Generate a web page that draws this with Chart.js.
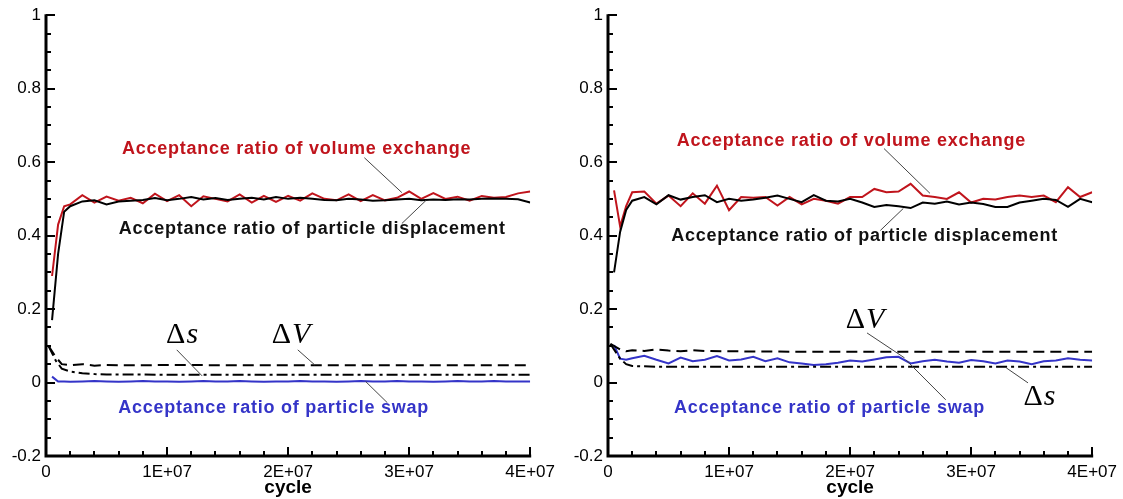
<!DOCTYPE html>
<html>
<head>
<meta charset="utf-8">
<script src="https://cdn.jsdelivr.net/npm/chart.js@4"></script>
<style>
html, body { margin: 0; padding: 0; background: #fff; }
#wrap { position: relative; width: 1123px; height: 499px; }
#wrap canvas { position: absolute; top: 0; }
</style>
</head>
<body>
<div id="wrap">
  <canvas id="left" width="561" height="499" style="left:0"></canvas>
  <canvas id="right" width="561" height="499" style="left:562px"></canvas>
</div>
<script>
// cycle, in units of 1E+06
const cycles = [0.5, 1, 1.5, 2, 3, 4, 5, 6, 7, 8, 9, 10, 11, 12, 13, 14, 15, 16, 17, 18, 19, 20,
  21, 22, 23, 24, 25, 26, 27, 28, 29, 30, 31, 32, 33, 34, 35, 36, 37, 38, 39, 40];

// left panel
const volumeL = [0.29, 0.43, 0.48, 0.485, 0.51, 0.49, 0.506, 0.495, 0.503, 0.488, 0.514, 0.494, 0.51, 0.48,
  0.507, 0.5, 0.493, 0.512, 0.49, 0.508, 0.492, 0.508, 0.495, 0.515, 0.5, 0.496, 0.512, 0.494, 0.51, 0.496,
  0.503, 0.52, 0.5, 0.516, 0.5, 0.506, 0.495, 0.508, 0.503, 0.505, 0.515, 0.52];
const displaceL = [0.17, 0.35, 0.465, 0.48, 0.493, 0.496, 0.485, 0.493, 0.495, 0.497, 0.502, 0.496, 0.5, 0.505,
  0.498, 0.502, 0.497, 0.5, 0.503, 0.498, 0.505, 0.5, 0.503, 0.5, 0.497, 0.496, 0.5, 0.498, 0.495, 0.496,
  0.498, 0.5, 0.496, 0.498, 0.497, 0.499, 0.498, 0.5, 0.501, 0.5, 0.499, 0.49];
const swapL = [0.016, 0.003, 0.003, 0.002, 0.003, 0.004, 0.003, 0.002, 0.003, 0.004, 0.003, 0.003, 0.002, 0.003,
  0.004, 0.003, 0.003, 0.004, 0.003, 0.002, 0.003, 0.003, 0.004, 0.003, 0.003, 0.002, 0.003, 0.004, 0.003, 0.003,
  0.004, 0.003, 0.003, 0.002, 0.003, 0.004, 0.003, 0.003, 0.004, 0.003, 0.003, 0.003];
const cyclesDL = [0.2, 0.8, 1.3, 2, 3, 4, 5, 6, 8, 10, 15, 20, 25, 30, 35, 40];
const deltaVL = [0.1, 0.07, 0.05, 0.047, 0.05, 0.046, 0.048, 0.047, 0.047, 0.048, 0.047, 0.047, 0.047, 0.047, 0.047, 0.047];
const deltaSL = [0.1, 0.06, 0.038, 0.03, 0.025, 0.023, 0.022, 0.022, 0.022, 0.021, 0.021, 0.021, 0.021, 0.021, 0.021, 0.021];

// right panel
const volumeR = [0.523, 0.425, 0.48, 0.518, 0.52, 0.487, 0.509, 0.48, 0.515, 0.487, 0.536, 0.469, 0.505, 0.503,
  0.505, 0.482, 0.505, 0.485, 0.5, 0.495, 0.487, 0.505, 0.505, 0.527, 0.518, 0.52, 0.541, 0.509, 0.505, 0.5,
  0.518, 0.49, 0.5, 0.498, 0.505, 0.509, 0.505, 0.509, 0.491, 0.532, 0.505, 0.518];
const displaceR = [0.3, 0.41, 0.47, 0.495, 0.505, 0.485, 0.51, 0.498, 0.505, 0.51, 0.491, 0.5, 0.495, 0.498,
  0.503, 0.509, 0.5, 0.491, 0.51, 0.495, 0.493, 0.5, 0.49, 0.478, 0.483, 0.48, 0.475, 0.49, 0.487, 0.493,
  0.485, 0.49, 0.486, 0.478, 0.478, 0.49, 0.495, 0.5, 0.497, 0.478, 0.5, 0.491];
const swapR = [0.102, 0.065, 0.062, 0.066, 0.073, 0.062, 0.052, 0.068, 0.058, 0.062, 0.072, 0.06, 0.063, 0.07,
  0.058, 0.066, 0.055, 0.052, 0.048, 0.05, 0.054, 0.06, 0.057, 0.063, 0.069, 0.07, 0.052, 0.058, 0.062, 0.057,
  0.054, 0.061, 0.058, 0.052, 0.06, 0.057, 0.05, 0.058, 0.06, 0.066, 0.062, 0.06];
const cyclesDR = [0.2, 1, 1.5, 2, 3, 4, 5, 6, 7, 8, 10, 15, 20, 25, 30, 35, 40];
const deltaVR = [0.105, 0.09, 0.085, 0.088, 0.086, 0.09, 0.087, 0.085, 0.088, 0.086, 0.085, 0.084, 0.084, 0.084, 0.084, 0.084, 0.084];
const deltaSR = [0.105, 0.065, 0.05, 0.045, 0.044, 0.043, 0.043, 0.043, 0.043, 0.043, 0.043, 0.043, 0.043, 0.043, 0.043, 0.043, 0.043];

const RED = '#c0141c';
const BLUE = '#3434c8';
const SANS = '"Liberation Sans", Arial, sans-serif';
const SERIF = '"Liberation Serif", "Times New Roman", serif';

// annotation labels and leader lines, in data units (cycle 1E+06, ratio)
const notesL = [
  { text: 'Acceptance ratio of volume exchange', color: RED, at: [20.7, 0.637], line: [26.3, 0.612, 29.4, 0.517] },
  { text: 'Acceptance ratio of particle displacement', color: '#111', at: [22.0, 0.417], line: [31.4, 0.496, 29.4, 0.433] },
  { math: 's', at: [11.2, 0.13], line: [10.8, 0.089, 12.9, 0.018] },
  { math: 'V', at: [20.2, 0.13], line: [20.8, 0.089, 22.2, 0.048] },
  { text: 'Acceptance ratio of particle swap', color: BLUE, at: [18.8, -0.069], line: [26.4, 0.003, 28.2, -0.055] }
];
const notesR = [
  { text: 'Acceptance ratio of volume exchange', color: RED, at: [20.1, 0.658], line: [22.8, 0.637, 26.6, 0.515] },
  { text: 'Acceptance ratio of particle displacement', color: '#111', at: [21.2, 0.4], line: [24.4, 0.474, 22.5, 0.414] },
  { math: 'V', at: [21.2, 0.17], line: [21.4, 0.135, 24.5, 0.067] },
  { math: 's', at: [35.6, -0.039], line: [32.9, 0.04, 34.7, -0.001] },
  { text: 'Acceptance ratio of particle swap', color: BLUE, at: [18.3, -0.069], line: [24.6, 0.062, 27.9, -0.047] }
];

const pairs = (xs, ys) => xs.map((x, i) => ({ x: x, y: ys[i] }));

const frame = {
  id: 'frame',
  afterDraw(chart, args, opts) {
    const ctx = chart.ctx;
    const a = chart.chartArea;
    const x = chart.scales.x, y = chart.scales.y;
    ctx.save();
    ctx.strokeStyle = '#000';
    ctx.lineWidth = 2;
    ctx.beginPath();
    for (let i = -4; i <= 20; i++) {
      const py = Math.round(y.getPixelForValue(i * 0.05));
      ctx.moveTo(a.left, py);
      ctx.lineTo(a.left + (i % 4 === 0 ? 9 : 5), py);
    }
    for (let i = 0; i <= 20; i++) {
      const px = Math.round(x.getPixelForValue(i * 2));
      ctx.moveTo(px, a.bottom);
      ctx.lineTo(px, a.bottom - (i % 5 === 0 ? 9 : 5));
    }
    ctx.stroke();
    ctx.lineWidth = 3;
    ctx.beginPath();
    ctx.moveTo(a.left, a.top - 1);
    ctx.lineTo(a.left, a.bottom);
    ctx.lineTo(a.right + 1, a.bottom);
    ctx.stroke();

    ctx.fillStyle = '#000';
    ctx.font = 'bold 19px ' + SANS;
    ctx.textAlign = 'center';
    ctx.textBaseline = 'middle';
    ctx.fillText('cycle', (a.left + a.right) / 2, 488);

    for (const n of opts.notes) {
      const l = n.line;
      ctx.strokeStyle = '#444';
      ctx.lineWidth = 1;
      ctx.beginPath();
      ctx.moveTo(x.getPixelForValue(l[0]), y.getPixelForValue(l[1]));
      ctx.lineTo(x.getPixelForValue(l[2]), y.getPixelForValue(l[3]));
      ctx.stroke();
      const px = x.getPixelForValue(n.at[0]), py = y.getPixelForValue(n.at[1]);
      ctx.textBaseline = 'middle';
      if (n.text) {
        ctx.fillStyle = n.color;
        ctx.font = 'bold 18px ' + SANS;
        ctx.letterSpacing = '0.75px';
        ctx.textAlign = 'center';
        ctx.fillText(n.text, px, py);
        ctx.letterSpacing = '0px';
      } else {
        ctx.fillStyle = '#000';
        ctx.font = '30px ' + SERIF;
        const w1 = ctx.measureText('\u0394').width;
        ctx.font = 'italic 30px ' + SERIF;
        const w2 = ctx.measureText(n.math).width;
        const x0 = px - (w1 + w2) / 2;
        ctx.textAlign = 'left';
        ctx.font = '30px ' + SERIF;
        ctx.fillText('\u0394', x0, py);
        ctx.font = 'italic 30px ' + SERIF;
        ctx.fillText(n.math, x0 + w1 + 1, py);
      }
    }
    ctx.restore();
  }
};

function makeChart(id, s, notes, padRight) {
  return new Chart(document.getElementById(id), {
    type: 'line',
    data: {
      datasets: [
        { data: pairs(s.cd, s.dv), borderColor: '#000', borderWidth: 2, borderDash: [11, 6] },
        { data: pairs(s.cd, s.ds), borderColor: '#000', borderWidth: 2, borderDash: [11, 4, 3, 4] },
        { data: pairs(cycles, s.sw), borderColor: BLUE, borderWidth: 2 },
        { data: pairs(cycles, s.di), borderColor: '#000', borderWidth: 2 },
        { data: pairs(cycles, s.vo), borderColor: RED, borderWidth: 2 }
      ]
    },
    options: {
      responsive: false,
      animation: false,
      elements: { point: { radius: 0 }, line: { tension: 0, fill: false } },
      layout: { padding: { top: 14, right: padRight, left: 0, bottom: 0 } },
      plugins: { legend: { display: false }, tooltip: { enabled: false }, frame: { notes: notes } },
      scales: {
        x: {
          type: 'linear', min: 0, max: 40,
          grid: { display: false, drawTicks: false }, border: { display: false },
          ticks: { stepSize: 10, padding: 6, maxRotation: 0, color: '#000', font: { family: SANS, size: 17 },
            callback: v => v === 0 ? '0' : (v / 10) + 'E+07' },
          afterFit: sc => { sc.height = 43; }
        },
        y: {
          min: -0.2, max: 1,
          grid: { display: false, drawTicks: false }, border: { display: false },
          ticks: { stepSize: 0.2, padding: 5, color: '#000', font: { family: SANS, size: 17 },
            callback: v => String(Math.round(v * 10) / 10) },
          afterFit: sc => { sc.width = 46; }
        }
      }
    },
    plugins: [frame]
  });
}

makeChart('left', { cd: cyclesDL, dv: deltaVL, ds: deltaSL, sw: swapL, di: displaceL, vo: volumeL }, notesL, 30);
makeChart('right', { cd: cyclesDR, dv: deltaVR, ds: deltaSR, sw: swapR, di: displaceR, vo: volumeR }, notesR, 29);
</script>
</body>
</html>
